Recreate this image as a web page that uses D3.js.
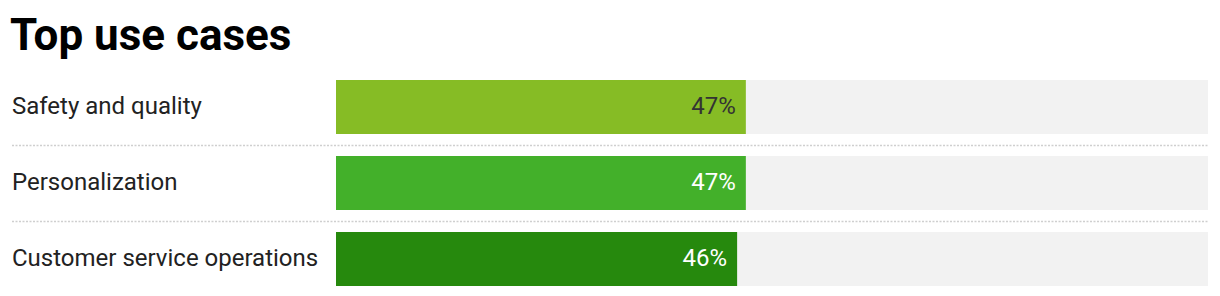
<!DOCTYPE html>
<html>
<head>
<meta charset="utf-8">
<script src="https://cdn.jsdelivr.net/npm/d3@7"></script>
<style>
  html, body { margin: 0; padding: 0; background: #fff; }
  svg { display: block; font-family: Roboto, "Noto Sans", sans-serif; }
</style>
</head>
<body>
<svg id="chart" width="1220" height="296"></svg>
<script>
// ---- 数据 ----
const categories = ["Safety and quality", "Personalization", "Customer service operations"];
const values = [47, 47, 46];
const barColors = ["#86bc25", "#43b02a", "#26890d"];
const valueColors = ["#333333", "#ffffff", "#ffffff"];

const svg = d3.select("#chart");

// 标题
svg.append("text").attr("x", 10).attr("y", 50)
  .attr("fill", "#000").style("font-size", "44px").style("font-weight", 700)
  .text("Top use cases");

const x = d3.scaleLinear().domain([0, 100]).range([336, 1208]);
const y = d3.scaleBand().domain(categories).range([80, 286]).paddingInner(22 / 76);

// 分隔虚线
const seps = categories.slice(0, -1);
svg.selectAll("line.sep").data(seps).join("line").attr("class", "sep")
  .attr("x1", 12).attr("x2", x(100))
  .attr("y1", (d) => y(d) + y.bandwidth() + 11.5)
  .attr("y2", (d) => y(d) + y.bandwidth() + 11.5)
  .attr("stroke", "#cfcfcf").attr("stroke-width", 1.5).attr("stroke-dasharray", "2,1.5");

const g = svg.selectAll("g.row").data(categories).join("g").attr("class", "row");

// 背景轨道
g.append("rect").attr("x", x(0)).attr("y", (d) => y(d))
  .attr("width", x(100) - x(0)).attr("height", y.bandwidth()).attr("fill", "#f2f2f2");

// 数值条
g.append("rect").attr("x", x(0)).attr("y", (d) => y(d))
  .attr("width", (d, i) => x(values[i]) - x(0)).attr("height", y.bandwidth())
  .attr("fill", (d, i) => barColors[i]);

// 类别标签
g.append("text").attr("x", 12).attr("y", (d) => y(d) + y.bandwidth() / 2 - 1)
  .attr("dy", "0.35em").attr("fill", "#222").style("font-size", "24px")
  .text((d) => d);

// 数值标签
g.append("text").attr("x", (d, i) => x(values[i]) - 10).attr("y", (d) => y(d) + y.bandwidth() / 2 - 1)
  .attr("dy", "0.35em").attr("text-anchor", "end").attr("fill", (d, i) => valueColors[i])
  .style("font-size", "24px").text((d, i) => values[i] + "%");
</script>
</body>
</html>
